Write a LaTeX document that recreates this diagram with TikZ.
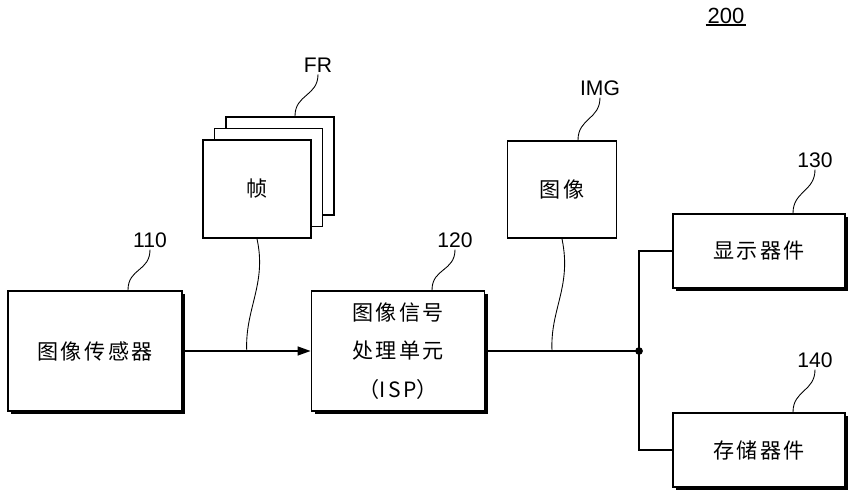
\documentclass[tikz,border=0pt]{standalone}
\usepackage{fontspec}
\setmainfont{Liberation Sans}
\newfontfamily\cjk[LetterSpace=12]{Noto Sans CJK SC}
\newfontfamily\cjkplain{Noto Sans CJK SC}
\usetikzlibrary{calc,positioning,arrows.meta,shadows}
\tikzset{
	>={Triangle[length=2.6mm,width=1.8mm]},
	block/.style={draw, line width=1.1pt, fill=white, font=\cjk\fontsize{12}{14}\selectfont, inner sep=0pt},
	shadowed/.style={block, drop shadow={shadow xshift=1.8pt, shadow yshift=-1.8pt, fill=black, opacity=1}},
	sheet/.style={block, minimum width=2.16cm, minimum height=1.96cm},
	refnum/.style={font=\fontsize{12}{14}\selectfont, inner sep=1pt},
	wire/.style={line width=0.8pt},
	lead/.style={line width=0.5pt},
}

\begin{document}
\begin{tikzpicture}[x=0.02cm, y=-0.02cm]
	\useasboundingbox (0,0) rectangle (858,500);
	\node[shadowed, minimum width=3.48cm, minimum height=2.4cm] (sensor) at (95,351) {图像传感器};
	\node[shadowed, minimum width=3.46cm, minimum height=2.4cm, align=center] (isp) at (398,351)
		{图像信号\\[8pt]处理单元\\[8pt]{\cjkplain （}ISP{\cjkplain ）}};
	\node[shadowed, minimum width=3.44cm, minimum height=1.48cm] (display) at (759,251) {显示器件};
	\node[shadowed, minimum width=3.44cm, minimum height=1.48cm] (storage) at (759,450) {存储器件};
	\node[sheet] (frame3) at (280,166) {};
	\node[sheet] (frame2) at (268.5,177.5) {};
	\node[sheet] (frame1) at (257,189) {帧};
	\node[block, minimum width=2.18cm, minimum height=1.94cm] (image) at (562,189.5) {图像};

	\node[refnum] (l110) at (150,240) {110};
	\node[refnum] (l120) at (455,240) {120};
	\node[refnum] (l130) at (815,160) {130};
	\node[refnum] (l140) at (815,360) {140};
	\node[refnum] (lfr) at (318,65) {FR};
	\node[refnum] (limg) at (600,88) {IMG};
	\node[refnum, font=\fontsize{12.5}{14}\selectfont] (l200) at (726,16) {200};
	\draw[line width=1.1pt] ([yshift=0.5pt]l200.south west) -- ([yshift=0.5pt]l200.south east);

	\coordinate (split) at (639,351);
	\coordinate (tap1) at ($(sensor.east)!0.5!(isp.west)$);
	\coordinate (tap2) at (552,351);

	\draw[wire,->] (sensor) -- (isp);
	\draw[wire] (isp) -- (split);
	\draw[wire] (display.west) -| (split) |- (storage.west);
	\fill (split) circle (2.2pt);

	\draw[lead] (frame1.south) .. controls +(10,45) and +(-2,-42) .. (tap1);
	\draw[lead] (image.south) .. controls +(10,48) and +(-2,-42) .. (tap2);

	\draw[lead] (sensor.north) ++(33,0) .. controls +(0,-22) and +(0,22) .. (l110.south);
	\draw[lead] (isp.north) ++(34,0) .. controls +(0,-22) and +(0,22) .. (l120.south);
	\draw[lead] (display.north) ++(34,0) .. controls +(0,-22) and +(0,22) .. (l130.south);
	\draw[lead] (storage.north) ++(34,0) .. controls +(0,-22) and +(0,22) .. (l140.south);
	\draw[lead] (frame3.north) ++(15,0) .. controls +(0,-22) and +(0,22) .. (lfr.south);
	\draw[lead] (image.north) ++(16,0) .. controls +(0,-22) and +(0,22) .. (limg.south);
\end{tikzpicture}
\end{document}
